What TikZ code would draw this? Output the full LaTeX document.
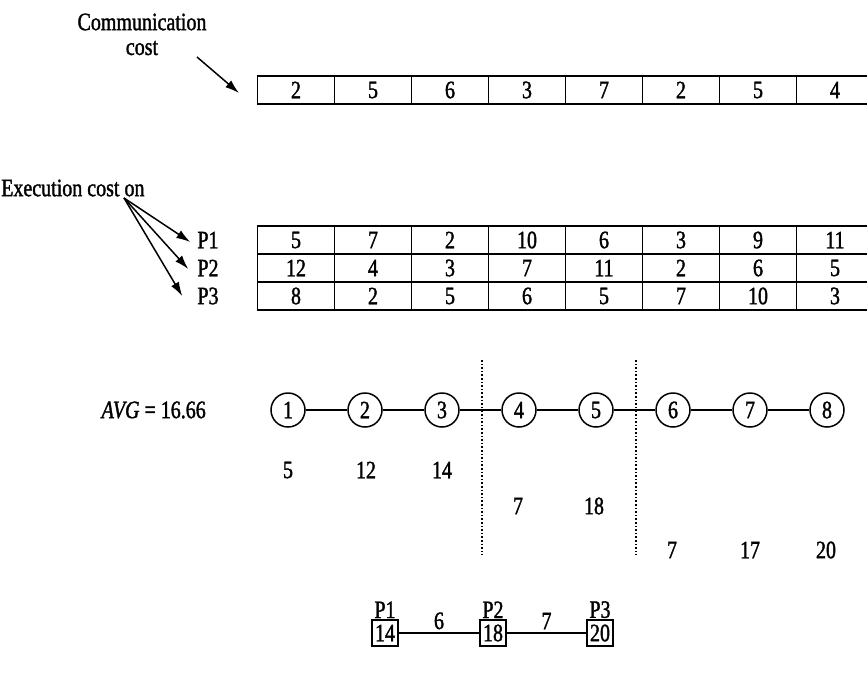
\documentclass[tikz,border=0pt]{standalone}
\usepackage{fontspec}
\setmainfont{Liberation Serif}[FakeStretch=0.8, FakeBold=1.4]
\usetikzlibrary{arrows.meta,positioning}

\tikzset{
  cell/.style={draw, line width=1.5pt, minimum width=77pt, minimum height=28pt,
               inner sep=0pt, outer sep=0pt},
  task/.style={draw, circle, line width=1.5pt, minimum size=34pt, inner sep=0pt},
  proc/.style={draw, line width=1.5pt, minimum size=26pt, inner sep=0pt},
  plain/.style={inner sep=1pt},
  pointer/.style={line width=1.5pt, -{Latex[length=14pt,width=9pt]}},
  link/.style={line width=1.5pt},
  cut/.style={line width=1.6pt, dotted},
}

\begin{document}
\begin{tikzpicture}[x=1pt, y=-1pt, font=\fontsize{25}{27}\selectfont]
  \clip (0,0) rectangle (867,675);

  % communication cost row
  \node[plain] (commlbl) at (142,22) {Communication};
  \node[plain] (costlbl) at (142,48) {cost};
  \foreach \v [count=\i] in {2,5,6,3,7,2,5,4}
    \node[cell] (comm\i) at ({296+77*(\i-1)},90) {\v};
  \coordinate (ca) at (197,57);
  \coordinate (cb) at (239,93);
  \draw[pointer] (ca) -- (cb);

  % execution cost table
  \node[plain, anchor=west] (execlbl) at (0,188) {Execution cost on};
  \foreach \vals [count=\r] in {{5,7,2,10,6,3,9,11},{12,4,3,7,11,2,6,5},{8,2,5,6,5,7,10,3}} {
    \node[plain] (P\r) at (208,{240+28*(\r-1)}) {P\r};
    \foreach \v [count=\i] in \vals
      \node[cell] (ex\r-\i) at ({296+77*(\i-1)},{240+28*(\r-1)}) {\v};
  }
  \coordinate (ea) at (124,198);
  \draw[pointer] (ea) -- ([xshift=-6pt,yshift=-2pt]P1.west);
  \draw[pointer] (ea) -- ([xshift=-8pt,yshift=-1pt]P2.west);
  \draw[pointer] (ea) -- ([xshift=-14pt,yshift=0pt]P3.west);

  % task chain
  \node[plain, anchor=east] (avg) at (207,410) {\textit{AVG} = 16.66};
  \foreach \i in {1,...,8}
    \node[task] (t\i) at ({288+77*(\i-1)},410) {\i};
  \foreach \i [evaluate=\i as \j using int(\i+1)] in {1,...,7}
    \draw[link] (t\i) -- (t\j);

  % partition cuts
  \coordinate (cutA1) at (482,360);
  \coordinate (cutA2) at (482,555);
  \coordinate (cutB1) at (636,360);
  \coordinate (cutB2) at (636,555);
  \draw[cut] (cutA1) -- (cutA2);
  \draw[cut] (cutB1) -- (cutB2);

  % accumulated costs
  \node[plain] (s1) at (288,470) {5};
  \node[plain] (s2) at (366,470) {12};
  \node[plain] (s3) at (442,470) {14};
  \node[plain] (s4) at (518,506) {7};
  \node[plain] (s5) at (594,506) {18};
  \node[plain] (s6) at (672,550) {7};
  \node[plain] (s7) at (750,550) {17};
  \node[plain] (s8) at (826,550) {20};

  % processor chain
  \node[proc] (q1) at (385,633) {14};
  \node[proc] (q2) at (493,633) {18};
  \node[proc] (q3) at (600,633) {20};
  \node[plain, above=0pt of q1] (q1lbl) {P1};
  \node[plain, above=0pt of q2] (q2lbl) {P2};
  \node[plain, above=0pt of q3] (q3lbl) {P3};
  \draw[link] (q1) -- node[plain, above=2pt] (w12) {6} (q2);
  \draw[link] (q2) -- node[plain, above=2pt] (w23) {7} (q3);
\end{tikzpicture}
\end{document}
